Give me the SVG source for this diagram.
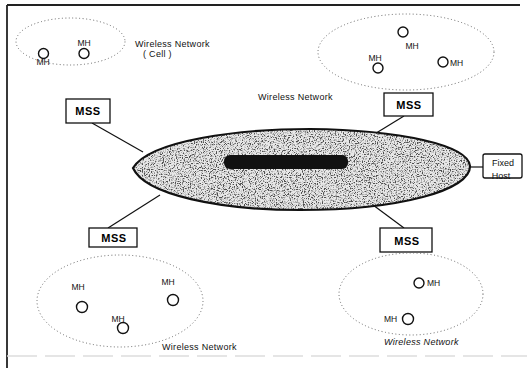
<svg xmlns="http://www.w3.org/2000/svg" width="527" height="370" viewBox="0 0 527 370">
<style>
  .cell { fill: none; stroke: #666; stroke-width: 1; stroke-dasharray: 1 2.5; }
  .mh { fill: #fff; stroke: #111; stroke-width: 1.4; }
  .lbl { font-family: "Liberation Sans", Arial, sans-serif; font-size: 8.5px; fill: #111; }
  .wn { font-family: "Liberation Sans", Arial, sans-serif; font-size: 9px; fill: #111; letter-spacing: 0.3px; }
  .box { fill: #fff; stroke: #111; stroke-width: 1.3; }
  .mss { font-family: "Liberation Sans", Arial, sans-serif; font-size: 11px; font-weight: bold; fill: #000; text-anchor: middle; letter-spacing: 0.5px; }
  .fh { font-family: "Liberation Sans", Arial, sans-serif; font-size: 9px; fill: #111; text-anchor: middle; }
  .link { stroke: #111; stroke-width: 1.2; fill: none; }
</style>
<defs>
  <filter id="speckle" x="0" y="0" width="100%" height="100%">
    <feTurbulence type="fractalNoise" baseFrequency="0.85" numOctaves="3" seed="7" result="n"/>
    <feColorMatrix in="n" type="matrix" values="0 0 0 0 0.08  0 0 0 0 0.08  0 0 0 0 0.08  0 0 0 -4.5 2.4" result="dots"/>
    <feComposite in="dots" in2="SourceGraphic" operator="in" result="d"/>
    <feMerge><feMergeNode in="SourceGraphic"/><feMergeNode in="d"/></feMerge>
  </filter>
  <path id="bb" d="M133,168 C150,140 240,129 310,129 C400,130 468,145 470,166 C471,190 400,210 300,210 C220,210 145,195 133,168 Z"/>
</defs>
<rect width="527" height="370" fill="#fff"/>
<g id="frame">
  <line x1="7" y1="5" x2="520" y2="5" stroke="#222" stroke-width="1.8"/>
  <line x1="7" y1="5" x2="7" y2="368" stroke="#222" stroke-width="1.8"/>
  <line x1="7" y1="356" x2="527" y2="356" stroke="#ddd" stroke-width="1.5" stroke-dasharray="30 8"/>
</g>
<g id="connectors">
  <line class="link" x1="92" y1="123" x2="143" y2="152"/>
  <line class="link" x1="404" y1="116" x2="373" y2="135"/>
  <line class="link" x1="108" y1="228" x2="160" y2="195"/>
  <line class="link" x1="404" y1="228" x2="373" y2="205"/>
  <line class="link" x1="468" y1="167" x2="483" y2="167"/>
</g>
<g id="backbone">
  <use href="#bb" fill="#e8e8e8" filter="url(#speckle)"/>
  <use href="#bb" fill="none" stroke="#111" stroke-width="2.2"/>
  <rect x="224" y="155" width="124" height="14" rx="6" fill="#111"/>
</g>
<g id="cell-tl">
  <ellipse class="cell" cx="70.5" cy="41.5" rx="54.5" ry="23.5"/>
  <circle class="mh" cx="43.5" cy="53.5" r="5"/>
  <circle class="mh" cx="84" cy="53.5" r="5"/>
  <text class="lbl" x="84" y="46" text-anchor="middle">MH</text>
  <text class="lbl" x="43" y="65" text-anchor="middle">MH</text>
  <text class="wn" x="135" y="46.5">Wireless  Network</text>
  <text class="wn" x="143" y="57">( Cell )</text>
</g>
<g id="mss-tl">
  <rect class="box" x="66" y="99" width="44" height="24"/>
  <text class="mss" x="88" y="115">MSS</text>
</g>
<g id="cell-tr">
  <ellipse class="cell" cx="406" cy="52" rx="88" ry="38"/>
  <circle class="mh" cx="403" cy="32" r="5"/>
  <text class="lbl" x="412" y="49" text-anchor="middle">MH</text>
  <text class="lbl" x="375" y="61" text-anchor="middle">MH</text>
  <circle class="mh" cx="378" cy="68" r="5"/>
  <circle class="mh" cx="443" cy="62" r="5"/>
  <text class="lbl" x="450" y="65.5">MH</text>
  <text class="wn" x="258" y="100">Wireless Network</text>
</g>
<g id="mss-tr">
  <rect class="box" x="384" y="93" width="49" height="23"/>
  <text class="mss" x="409" y="109">MSS</text>
</g>
<g id="fixed-host">
  <rect class="box" x="483" y="154" width="39" height="24" rx="2"/>
  <text class="fh" x="503" y="166">Fixed</text>
  <text class="fh" x="501" y="179">Host</text>
</g>
<g id="mss-bl">
  <rect class="box" x="89" y="228" width="48" height="19"/>
  <text class="mss" x="114" y="242">MSS</text>
</g>
<g id="cell-bl">
  <ellipse class="cell" cx="120" cy="301" rx="83" ry="46"/>
  <text class="lbl" x="78" y="290" text-anchor="middle">MH</text>
  <circle class="mh" cx="82" cy="307" r="5.5"/>
  <text class="lbl" x="118" y="322" text-anchor="middle">MH</text>
  <circle class="mh" cx="123" cy="328" r="5.5"/>
  <text class="lbl" x="168" y="285" text-anchor="middle">MH</text>
  <circle class="mh" cx="173" cy="300" r="5.5"/>
  <text class="wn" x="162" y="350">Wireless Network</text>
</g>
<g id="mss-br">
  <rect class="box" x="380" y="228" width="52" height="24"/>
  <text class="mss" x="407" y="245">MSS</text>
</g>
<g id="cell-br">
  <ellipse class="cell" cx="411" cy="294" rx="72" ry="41"/>
  <circle class="mh" cx="419" cy="283" r="5"/>
  <text class="lbl" x="427" y="286">MH</text>
  <circle class="mh" cx="408" cy="319" r="5.5"/>
  <text class="lbl" x="384" y="322">MH</text>
  <text class="wn" x="384" y="345" font-style="italic">Wireless Network</text>
</g>
</svg>
